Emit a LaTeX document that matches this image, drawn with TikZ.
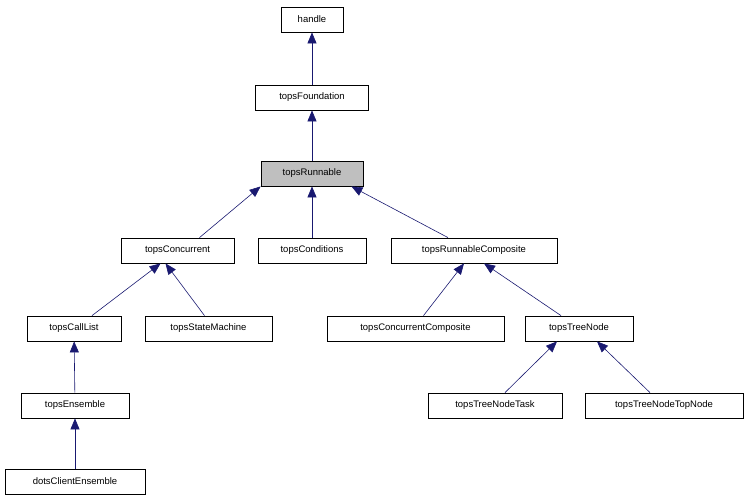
\documentclass[tikz,border=0pt]{standalone}
\usepackage{fontspec}
\setmainfont{Liberation Sans}
\usetikzlibrary{arrows.meta}
\definecolor{edgeblue}{RGB}{25,25,112}
\tikzset{
	cls/.style={draw=black, fill=white, thick, minimum height=25pt, inner sep=0pt, font=\fontsize{9.5}{11}\selectfont},
	inh/.style={draw=edgeblue, semithick, -{Triangle[width=9pt,length=11pt]}}
}
\begin{document}
\begin{tikzpicture}[x=1pt, y=-1pt]
	\useasboundingbox (0,0) rectangle (748,504);
	% Klassen
	\node[cls, minimum width=62pt] (handle) at (312, 19.5) {handle};
	\node[cls, minimum width=113pt] (found) at (312, 97.5) {topsFoundation};
	\node[cls, minimum width=102pt, fill={rgb:white,3;black,1}] (runnable) at (312, 173.5) {topsRunnable};
	\node[cls, minimum width=113pt] (concurrent) at (177.5, 250.5) {topsConcurrent};
	\node[cls, minimum width=108pt] (conditions) at (312, 250.5) {topsConditions};
	\node[cls, minimum width=166pt] (runcomp) at (474, 250.5) {topsRunnableComposite};
	\node[cls, minimum width=94pt] (calllist) at (74, 328.5) {topsCallList};
	\node[cls, minimum width=127pt] (statemachine) at (208.5, 328.5) {topsStateMachine};
	\node[cls, minimum width=177pt] (concomp) at (415.5, 328.5) {topsConcurrentComposite};
	\node[cls, minimum width=108pt] (treenode) at (579, 328.5) {topsTreeNode};
	\node[cls, minimum width=108pt] (ensemble) at (75, 405.5) {topsEnsemble};
	\node[cls, minimum width=134pt] (task) at (495, 405.5) {topsTreeNodeTask};
	\node[cls, minimum width=158pt] (topnode) at (664, 405.5) {topsTreeNodeTopNode};
	\node[cls, minimum width=140pt] (dots) at (75, 481.5) {dotsClientEnsemble};
	% Vererbung
	\draw[inh] (found) -- (handle);
	\draw[inh] (runnable) -- (found);
	\draw[inh] (concurrent.north) ++(22,0) -- (runnable.south west);
	\draw[inh] (conditions) -- (runnable);
	\draw[inh] (runcomp.north) ++(-26,0) -- ([xshift=-12pt]runnable.south east);
	\draw[inh] (calllist.north) ++(18,0) -- (concurrent);
	\draw[inh] (statemachine.north) ++(-4,0) -- ([xshift=-12pt]concurrent.south);
	\draw[inh] (concomp.north) ++(8,0) -- (runcomp);
	\draw[inh] (treenode.north) ++(-18,0) -- ([xshift=10pt]runcomp.south);
	\draw[inh] (ensemble) -- (calllist);
	\draw[inh] (task.north) ++(10,0) -- ([xshift=-22pt]treenode.south);
	\draw[inh] (topnode.north) ++(-14,0) -- ([xshift=18pt]treenode.south);
	\draw[inh] (dots) -- (ensemble);
\end{tikzpicture}
\end{document}
